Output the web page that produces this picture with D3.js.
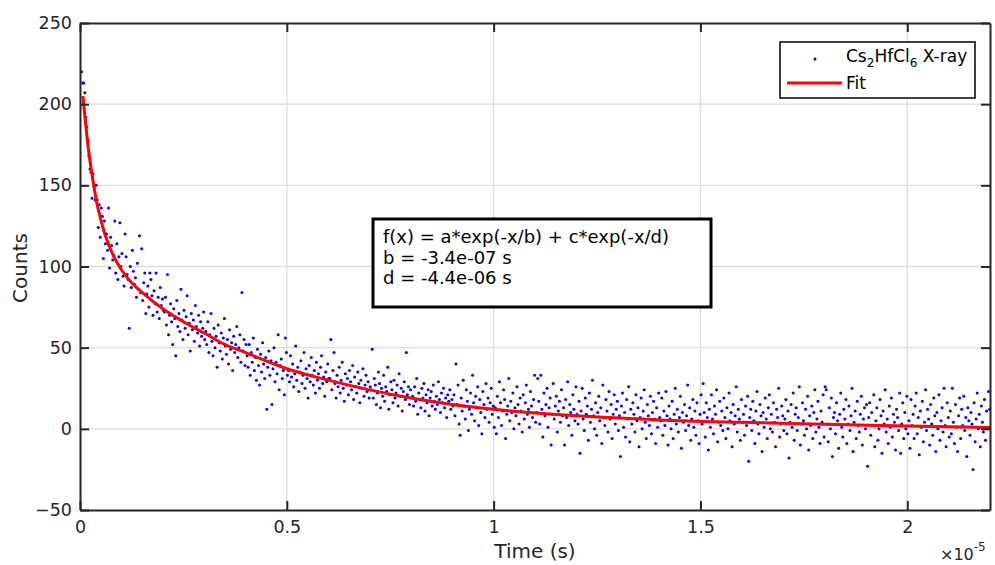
<!DOCTYPE html>
<html>
<head>
<meta charset="utf-8">
<script src="https://cdn.jsdelivr.net/npm/d3@7"></script>
<style>
  body { margin: 0; background: #fff; }
  svg { font-family: "DejaVu Sans", sans-serif; }
</style>
</head>
<body>
<svg id="chart" width="995" height="565"></svg>
<script>
// time is stored in units of 1e-5 s (the axis multiplier)
const sampleStart = 0.004;
const sampleStep = 0.0025;

// counts per time bin (40 bins per 0.1 x 1e-5 s)
const counts = [
  220, 213, 213, 207, 192, 186, 178, 168, 160, 158, 142, 157, 149, 141, 150, 141, 124, 138, 118, 136, 131, 105, 128, 114, 120, 110, 136, 99, 118, 113, 104, 107, 128, 96, 114, 92, 106, 127, 100, 108,
  94, 88, 120, 106, 95, 92, 62, 100, 87, 110, 97, 89, 93, 81, 102, 86, 119, 84, 111, 79, 90, 96, 71, 83, 88, 75, 96, 92, 82, 70, 85, 77, 96, 72, 81, 68, 87, 76, 80, 73,
  72, 81, 64, 95, 58, 70, 77, 66, 52, 74, 68, 45, 79, 63, 71, 60, 86, 67, 55, 73, 62, 69, 82, 58, 65, 48, 71, 61, 67, 54, 76, 63, 59, 70, 51, 66, 57, 62, 72, 55,
  60, 52, 66, 47, 58, 71, 54, 45, 62, 50, 57, 38, 64, 53, 48, 59, 43, 56, 68, 51, 46, 55, 40, 61, 49, 53, 36, 57, 47, 52, 63, 44, 50, 58, 41, 84, 48, 55, 39, 52,
  45, 38, 52, 33, 47, 41, 56, 36, 44, 30, 49, 39, 27, 46, 35, 53, 40, 31, 44, 12, 38, 48, 33, 42, 15, 37, 50, 29, 41, 34, 58, 24, 39, 43, 31, 36, 21, 56, 47, 33,
  36, 29, 45, 32, 40, 26, 34, 51, 30, 38, 23, 35, 42, 28, 33, 47, 25, 37, 31, 19, 39, 29, 44, 33, 27, 36, 22, 41, 30, 34, 25, 38, 45, 28, 32, 20, 35, 29, 40, 31,
  31, 55, 24, 36, 47, 28, 19, 33, 26, 38, 22, 30, 41, 25, 17, 34, 27, 31, 21, 36, 29, 24, 39, 18, 32, 26, 22, 35, 28, 16, 30, 25, 37, 20, 27, 33, 23, 29, 19, 26,
  24, 49, 19, 31, 27, 15, 22, 35, 28, 13, 25, 20, 33, 17, 26, 23, 38, 12, 21, 29, 24, 16, 30, 19, 22, 27, 14, 34, 20, 25, 11, 23, 29, 18, 47, 21, 26, 15, 24, 19,
  20, 14, 26, 17, 31, 9, 22, 18, 13, 25, 19, 28, 11, 21, 16, 24, 8, 19, 23, 14, 27, 17, 12, 20, 15, 29, 18, 10, 22, 16, 25, 13, 19, 7, 21, 17, 24, 12, 18, 14,
  21, 8, 40, 15, 27, 3, -4, 19, 11, 30, 14, 6, 24, 17, -1, 12, 22, 9, 33, 16, 5, 20, 13, 26, 2, 18, 10, -3, 23, 15, 7, 28, 12, 19, 4, 16, 25, 9, 14, 1,
  13, -3, 20, 7, 29, 16, 2, 11, 24, 18, -6, 9, 14, 31, 5, 17, 10, 22, 0, 13, 8, 26, 15, 3, 19, 11, -2, 21, 6, 16, 27, 9, 12, 1, 23, 14, 7, 18, 33, 4,
  10, 31, 17, 3, 33, 12, -5, 22, 8, 15, 25, 1, 13, 19, -10, 9, 28, 6, 14, 20, -2, 11, 17, 4, 24, 8, 13, -10, 18, 7, 29, 2, 15, 10, -4, 21, 12, 5, 26, 9,
  3, 17, -15, 11, 25, 6, -1, 19, 9, 14, -7, 22, 4, 12, 30, 8, 0, 16, -4, 10, 20, 5, 13, -9, 27, 7, 2, 18, 11, -2, 23, 6, 15, -6, 9, 21, 3, 12, 17, -1,
  8, -17, 14, 22, 1, 10, -5, 18, 6, 26, -8, 12, 3, 16, 9, -2, 21, 5, 13, -11, 7, 19, 0, 11, 24, 4, -6, 15, 8, 2, 20, -3, 10, 17, 6, -9, 13, 1, 22, 7,
  5, 19, -4, 11, 2, 23, 8, -10, 14, 6, 0, 17, -6, 9, 25, 3, 12, -2, 7, 20, -12, 10, 4, 15, -1, 8, 27, 2, 13, -7, 6, 18, 1, 11, -4, 16, 5, -9, 9, 21,
  3, 28, 10, -5, 16, 7, -13, 12, 1, 21, 6, -3, 14, 9, 24, -8, 4, 17, 2, 11, -1, 19, 7, -6, 13, 0, 22, 5, 10, -11, 15, 3, 8, 26, -2, 12, 6, -7, 18, 4,
  9, -4, 14, 2, 20, -20, 7, 12, -1, 17, 5, -9, 11, 23, 3, -3, 15, 8, -14, 10, 1, 19, 6, -6, 13, 21, 0, 9, -2, 16, 4, -11, 12, 7, 25, -5, 3, 14, 8, -1,
  6, 18, -3, 11, -18, 4, 15, 1, 22, -7, 9, 13, -1, 7, 26, -10, 3, 16, 5, -4, 12, 0, 20, -13, 8, 2, 14, -6, 10, 24, -2, 6, 17, 1, -9, 11, 4, 21, -5, 26,
  24, 3, -8, 13, 0, 19, -17, 7, 10, -3, 16, 5, -12, 9, 22, 1, -5, 12, 6, 18, -9, 3, 14, -1, 8, 25, -14, 4, 11, -6, 17, 2, -2, 9, 20, -10, 6, 13, 0, 15,
  -23, 7, 16, -4, 10, 2, 21, -11, 5, 13, -7, 0, 18, 8, -15, 11, 3, 24, -2, 6, -9, 14, 1, 19, -5, 9, 4, -13, 12, 7, -1, 22, -15, 3, 16, -6, 10, 0, 20, -3,
  5, -12, 18, 2, 9, -6, 14, 22, -3, 7, -16, 11, 1, 17, -8, 4, 24, -1, 12, 6, -10, 15, 3, -4, 19, 8, -14, 10, 0, 21, -7, 5, 13, -2, 25, 2, -11, 16, 7, -5,
  11, -3, 25, 4, -9, 15, 1, -14, 8, 19, -6, 12, 2, 20, -1, 7, -17, 13, 5, -4, 10, 3, -25, 16, -8, 6, 22, 0, 9, -11, 14, 4, -2, 18, -7, 11, 1, 23, 12
];

// fit curve
const fitTime = [0.007, 0.02, 0.03, 0.04, 0.05, 0.06, 0.08, 0.1, 0.125, 0.15, 0.2, 0.25, 0.3, 0.35, 0.4, 0.5, 0.6, 0.7, 0.8, 0.9, 1.0, 1.2, 1.4, 1.6, 1.8, 2.0, 2.2];
const fitCounts = [205, 173, 155, 140, 129, 120, 107, 98, 90, 84, 74, 66, 59, 52, 47, 37, 30, 24, 19, 15, 12, 8, 5.5, 4, 2.8, 1.8, 0.8];

const xTicks = [0, 0.5, 1, 1.5, 2];
const yTicks = [-50, 0, 50, 100, 150, 200, 250];

const legendLabels = ['X-ray', 'Fit'];
const fitText = ['f(x) = a*exp(-x/b) + c*exp(-x/d)', 'b = -3.4e-07 s', 'd = -4.4e-06 s'];

const margin = {top: 23, right: 5, bottom: 55, left: 80};
const svg = d3.select('#chart');
const width = +svg.attr('width');
const height = +svg.attr('height');

const x = d3.scaleLinear().domain([0, 2.2]).range([margin.left, width - margin.right]);
const y = d3.scaleLinear().domain([-50, 250]).range([height - margin.bottom, margin.top]);

const axisColor = '#262626';

// grid
const grid = svg.append('g').attr('stroke', '#dcdcdc').attr('stroke-width', 1.3);
grid.selectAll('.gx').data(xTicks.slice(1)).enter().append('line')
    .attr('x1', d => x(d)).attr('x2', d => x(d))
    .attr('y1', y(-50)).attr('y2', y(250));
grid.selectAll('.gy').data(yTicks.slice(1, -1)).enter().append('line')
    .attr('x1', x(0)).attr('x2', x(2.2))
    .attr('y1', d => y(d)).attr('y2', d => y(d));

// scatter
const points = counts.map((c, i) => ({t: sampleStart + i * sampleStep, c: c}))
    .filter(d => d.t <= 2.2);
svg.append('g')
    .attr('fill', '#0000ee')
    .selectAll('circle')
    .data(points)
    .enter()
    .append('circle')
    .attr('cx', d => x(d.t))
    .attr('cy', d => y(d.c))
    .attr('r', 1.5);

// fit line
const lineGen = d3.line()
    .curve(d3.curveMonotoneX)
    .x((d, i) => x(fitTime[i]))
    .y(d => y(d));
svg.append('path')
    .datum(fitCounts)
    .attr('d', lineGen)
    .attr('fill', 'none')
    .attr('stroke', '#ff0000')
    .attr('stroke-width', 3);

// axes (MATLAB style box with inner ticks)
function styleAxis(g){
    g.select('.domain').attr('stroke', axisColor).attr('stroke-width', 2);
    g.selectAll('.tick line').attr('stroke', axisColor).attr('stroke-width', 2);
    g.selectAll('.tick text').attr('fill', axisColor).attr('font-size', 17.5)
        .attr('font-family', '"DejaVu Sans", sans-serif');
}

svg.append('g')
    .attr('transform', 'translate(0,' + y(-50) + ')')
    .call(d3.axisBottom(x).tickValues(xTicks).tickSizeInner(-9).tickSizeOuter(0).tickPadding(11)
        .tickFormat(d3.format('')))
    .call(styleAxis);
svg.append('g')
    .attr('transform', 'translate(0,' + y(250) + ')')
    .call(d3.axisTop(x).tickValues(xTicks).tickSizeInner(-9).tickSizeOuter(0).tickFormat(''))
    .call(styleAxis);
svg.append('g')
    .attr('transform', 'translate(' + x(0) + ',0)')
    .call(d3.axisLeft(y).tickValues(yTicks).tickSizeInner(-9).tickSizeOuter(0).tickPadding(8))
    .call(styleAxis);
svg.append('g')
    .attr('transform', 'translate(' + x(2.2) + ',0)')
    .call(d3.axisRight(y).tickValues(yTicks).tickSizeInner(-9).tickSizeOuter(0).tickFormat(''))
    .call(styleAxis);

// axis labels
svg.append('text')
    .attr('x', (x(0) + x(2.2)) / 2)
    .attr('y', 558)
    .attr('text-anchor', 'middle')
    .attr('font-size', 20)
    .attr('fill', axisColor)
    .text('Time (s)');
svg.append('text')
    .attr('transform', 'translate(27,' + 268 + ') rotate(-90)')
    .attr('text-anchor', 'middle')
    .attr('font-size', 20)
    .attr('fill', axisColor)
    .text('Counts');
const mult = svg.append('text')
    .attr('x', 940)
    .attr('y', 560)
    .attr('font-size', 16)
    .attr('fill', axisColor);
mult.append('tspan').text('\u00d710');
mult.append('tspan').attr('dy', -9).attr('font-size', 12).text('-5');

// legend
const legend = svg.append('g');
legend.append('rect')
    .attr('x', 780).attr('y', 42).attr('width', 195).attr('height', 56)
    .attr('fill', '#fff').attr('stroke', '#000').attr('stroke-width', 1.5);
legend.append('circle')
    .attr('cx', 815).attr('cy', 59).attr('r', 1.5).attr('fill', '#0000ee');
const lab = legend.append('text')
    .attr('x', 846).attr('y', 62)
    .attr('font-size', 17).attr('fill', '#000');
lab.append('tspan').text('Cs');
lab.append('tspan').attr('dy', 5).attr('font-size', 12).text('2');
lab.append('tspan').attr('dy', -5).text('HfCl');
lab.append('tspan').attr('dy', 5).attr('font-size', 12).text('6');
lab.append('tspan').attr('dy', -5).text(' ' + legendLabels[0]);
legend.append('line')
    .attr('x1', 787).attr('x2', 842).attr('y1', 83).attr('y2', 83)
    .attr('stroke', '#ff0000').attr('stroke-width', 3);
legend.append('text')
    .attr('x', 846).attr('y', 89)
    .attr('font-size', 17).attr('fill', '#000')
    .text(legendLabels[1]);

// annotation box
const note = svg.append('g');
note.append('rect')
    .attr('x', 373).attr('y', 219).attr('width', 338).attr('height', 88)
    .attr('fill', '#fff').attr('stroke', '#000').attr('stroke-width', 3);
note.selectAll('text')
    .data(fitText)
    .enter()
    .append('text')
    .attr('x', 383)
    .attr('y', (d, i) => 243 + i * 20.5)
    .attr('font-size', 18)
    .attr('fill', '#000')
    .text(d => d);
</script>
</body>
</html>
